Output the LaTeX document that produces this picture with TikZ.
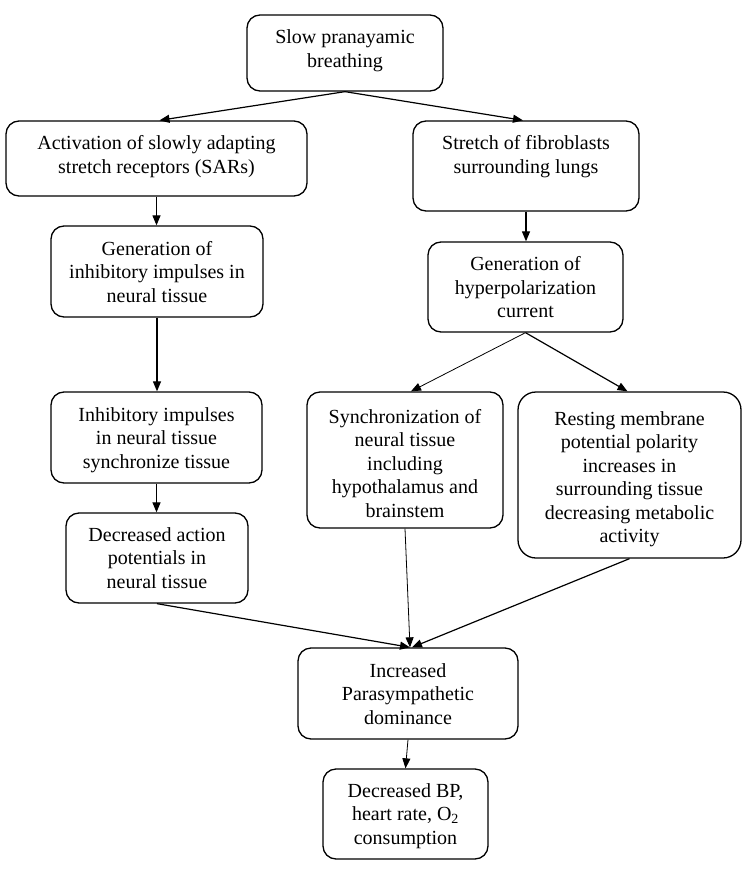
\documentclass[tikz,border=0pt]{standalone}
\usepackage{fontspec}
\setmainfont{Liberation Serif}
\usetikzlibrary{arrows.meta}
\begin{document}
\begin{tikzpicture}[x=1pt,y=-1pt,
  box/.style={draw, line width=1.3pt, rounded corners=13pt, inner sep=0pt},
  txt/.style={anchor=north, inner sep=0pt, align=center, font=\fontsize{20}{23.5}\selectfont},
  arr/.style={line width=1.2pt, -{Triangle[length=10pt,width=8pt]}},
  tarr/.style={line width=0.8pt, -{Triangle[length=10pt,width=8pt]}}
]
\useasboundingbox (0,0) rectangle (743,872);
% boxes
\node[box, minimum width=196pt, minimum height=76pt] (b1) at (345,53) {};
\node[box, minimum width=301pt, minimum height=75pt] (b2) at (156.5,158.5) {};
\node[box, minimum width=226pt, minimum height=90pt] (b3) at (526,166) {};
\node[box, minimum width=212pt, minimum height=91pt] (b4) at (157,271.5) {};
\node[box, minimum width=195pt, minimum height=90pt] (b5) at (525.5,287) {};
\node[box, minimum width=211pt, minimum height=91pt] (b6) at (156.5,437.5) {};
\node[box, minimum width=196pt, minimum height=136pt] (b7) at (405,460) {};
\node[box, rounded corners=18pt, minimum width=223pt, minimum height=166pt] (b8) at (629.5,475) {};
\node[box, minimum width=182pt, minimum height=90pt] (b9) at (157,558) {};
\node[box, minimum width=220pt, minimum height=91pt] (b10) at (408,693.5) {};
\node[box, minimum width=165pt, minimum height=90pt] (b11) at (405.5,814) {};
% texts
\node[txt] (t1) at (345,28.5) {\rule{0pt}{15pt}Slow pranayamic\\breathing};
\node[txt] (t2) at (156.5,134.5) {\rule{0pt}{15pt}Activation of slowly adapting\\stretch receptors (SARs)};
\node[txt] (t3) at (526,134.5) {\rule{0pt}{15pt}Stretch of fibroblasts\\surrounding lungs};
\node[txt] (t4) at (157,240) {\rule{0pt}{15pt}Generation of\\inhibitory impulses in\\neural tissue};
\node[txt] (t5) at (525.5,255.5) {\rule{0pt}{15pt}Generation of\\hyperpolarization\\current};
\node[txt] (t6) at (156.5,406) {\rule{0pt}{15pt}Inhibitory impulses\\in neural tissue\\synchronize tissue};
\node[txt] (t7) at (405,408) {\rule{0pt}{15pt}Synchronization of\\neural tissue\\including\\hypothalamus and\\brainstem};
\node[txt] (t8) at (629.5,410) {\rule{0pt}{15pt}Resting membrane\\potential polarity\\increases in\\surrounding tissue\\decreasing metabolic\\activity};
\node[txt] (t9) at (157,526) {\rule{0pt}{15pt}Decreased action\\potentials in\\neural tissue};
\node[txt] (t10) at (408,662) {\rule{0pt}{15pt}Increased\\Parasympathetic\\dominance};
\node[txt] (t11) at (405.5,782) {\rule{0pt}{15pt}Decreased BP,\\heart rate, O\textsubscript{2}\\consumption};
% connectors
\draw[arr] (b1.south) -- ([xshift=3pt]b2.north);
\draw[arr] (b1.south) -- ([xshift=-3pt]b3.north);
\draw[arr] (b2.south) -- (b2.south |- b4.north);
\draw[arr] (b3.south) -- (b3.south |- b5.north);
\draw[arr] (b4.south) -- (b4.south |- b6.north);
\draw[arr] (b6.south) -- (b6.south |- b9.north);
\draw[tarr] (b5.south) -- ([xshift=6pt]b7.north);
\draw[arr] (b5.south) -- ([xshift=-2pt]b8.north);
\draw[arr] (b9.south) -- ([xshift=2pt]b10.north);
\draw[tarr] (b7.south) -- ([xshift=2pt]b10.north);
\draw[arr] (b8.south) -- ([xshift=4pt]b10.north);
\draw[tarr] (b10.south) -- (b11.north);
\end{tikzpicture}
\end{document}
